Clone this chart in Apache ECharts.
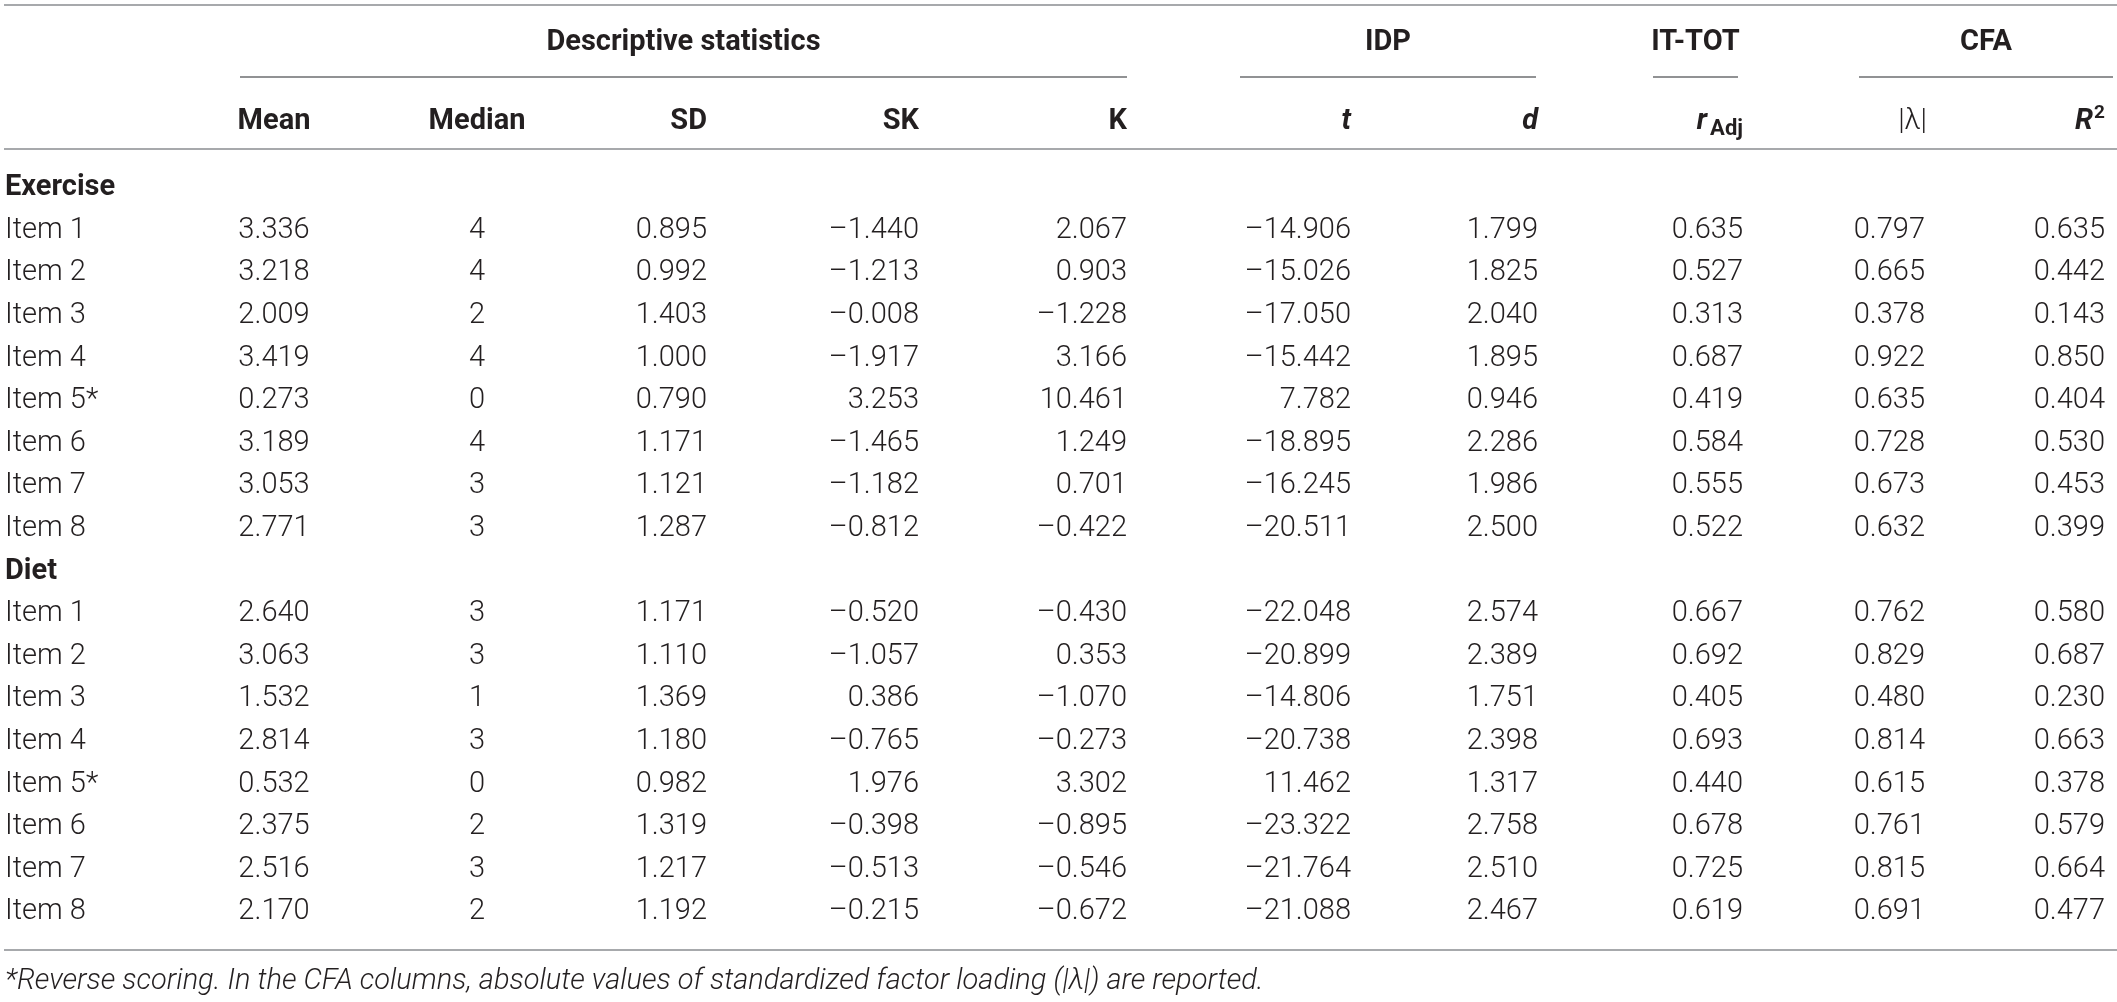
<!DOCTYPE html>
<html>
<head>
<meta charset="utf-8">
<script src="https://cdn.jsdelivr.net/npm/echarts@6.0.0/dist/echarts.min.js"></script>
<style>
  html, body { margin: 0; padding: 0; background: #fff; }
  #main { width: 2117px; height: 1002px; }
</style>
</head>
<body>
<div id="main"></div>
<script>
// table content
const groups = ['Exercise', 'Diet'];
const items = ['Item 1', 'Item 2', 'Item 3', 'Item 4', 'Item 5*', 'Item 6', 'Item 7', 'Item 8'];
const groupHeaders = ['Descriptive statistics', 'IDP', 'IT-TOT', 'CFA'];
const footnote = '*Reverse scoring. In the CFA columns, absolute values of standardized factor loading (|\u03bb|) are reported.';

// exercise items 1-8 then diet items 1-8
const mean   = [3.336, 3.218, 2.009, 3.419, 0.273, 3.189, 3.053, 2.771,
                2.640, 3.063, 1.532, 2.814, 0.532, 2.375, 2.516, 2.170];
const median = [4, 4, 2, 4, 0, 4, 3, 3,
                3, 3, 1, 3, 0, 2, 3, 2];
const sd     = [0.895, 0.992, 1.403, 1.000, 0.790, 1.171, 1.121, 1.287,
                1.171, 1.110, 1.369, 1.180, 0.982, 1.319, 1.217, 1.192];
const sk     = [-1.440, -1.213, -0.008, -1.917, 3.253, -1.465, -1.182, -0.812,
                -0.520, -1.057, 0.386, -0.765, 1.976, -0.398, -0.513, -0.215];
const kurt   = [2.067, 0.903, -1.228, 3.166, 10.461, 1.249, 0.701, -0.422,
                -0.430, 0.353, -1.070, -0.273, 3.302, -0.895, -0.546, -0.672];
const tIdp   = [-14.906, -15.026, -17.050, -15.442, 7.782, -18.895, -16.245, -20.511,
                -22.048, -20.899, -14.806, -20.738, 11.462, -23.322, -21.764, -21.088];
const dIdp   = [1.799, 1.825, 2.040, 1.895, 0.946, 2.286, 1.986, 2.500,
                2.574, 2.389, 1.751, 2.398, 1.317, 2.758, 2.510, 2.467];
const rAdj   = [0.635, 0.527, 0.313, 0.687, 0.419, 0.584, 0.555, 0.522,
                0.667, 0.692, 0.405, 0.693, 0.440, 0.678, 0.725, 0.619];
const lambda = [0.797, 0.665, 0.378, 0.922, 0.635, 0.728, 0.673, 0.632,
                0.762, 0.829, 0.480, 0.814, 0.615, 0.761, 0.815, 0.691];
const r2     = [0.635, 0.442, 0.143, 0.850, 0.404, 0.530, 0.453, 0.399,
                0.580, 0.687, 0.230, 0.663, 0.378, 0.579, 0.664, 0.477];

const columns = [mean, median, sd, sk, kurt, tIdp, dIdp, rAdj, lambda, r2];

// layout (pixel units of the hidden axes)
const W = 2117, H = 1002;
const colX     = [274, 477, 707, 919, 1127, 1351, 1538, 1743, 1925, 2105];
const colAlign = ['center', 'center', 'right', 'right', 'right', 'right', 'right', 'right', 'right', 'right'];
const ROW0 = 188, PITCH = 42.6, LABEL_X = 5;
const groupSpan = [[240, 1127], [1240, 1536], [1653, 1738], [1859, 2113]];
const Y_TOP = 5, Y_GROUP = 43, Y_GROUP_RULE = 77, Y_HEAD = 122, Y_HEAD_RULE = 149, Y_BOTTOM = 950, Y_FOOT = 982;

const INK = '#231f20';
const BODY_FONT = 'Roboto, "Liberation Sans", sans-serif';
const FS = 29;

const fmt = (v, dec) => (v < 0 ? '\u2013' : '') + Math.abs(v).toFixed(dec);

// column headers, some need italic / sub / superscript pieces
const colHeaders = [
  [{text: 'Mean', bold: true}],
  [{text: 'Median', bold: true}],
  [{text: 'SD', bold: true}],
  [{text: 'SK', bold: true}],
  [{text: 'K', bold: true}],
  [{text: 't', bold: true, italic: true}],
  [{text: 'd', bold: true, italic: true}],
  [{text: 'r', bold: true, italic: true, dx: -36}, {text: 'Adj', bold: true, size: 22, dy: 7}],
  [{text: '|\u03bb|', dx: 2}],
  [{text: 'R', bold: true, italic: true, dx: -12}, {text: '2', bold: true, size: 19, dy: -9}]
];

// build text cells
const cells = [];
groups.forEach((g, gi) => {
  const base = gi * 9;
  cells.push({x: LABEL_X, y: ROW0 + base * PITCH, text: g, align: 'left', bold: true});
  items.forEach((it, ii) => {
    const r = base + 1 + ii;
    const k = gi * 8 + ii;
    const y = ROW0 + r * PITCH;
    cells.push({x: LABEL_X, y: y, text: it, align: 'left'});
    columns.forEach((col, ci) => {
      cells.push({
        x: colX[ci], y: y, align: colAlign[ci],
        text: ci === 1 ? String(col[k]) : fmt(col[k], 3)
      });
    });
  });
});
groupHeaders.forEach((h, i) => {
  cells.push({x: (groupSpan[i][0] + groupSpan[i][1]) / 2, y: Y_GROUP, text: h, align: 'center', bold: true});
});
colHeaders.forEach((parts, ci) => {
  parts.forEach(p => {
    cells.push({
      x: colX[ci] + (p.dx || 0), y: Y_HEAD + (p.dy || 0), text: p.text,
      align: ci < 2 ? 'center' : 'right', bold: p.bold, italic: p.italic, size: p.size
    });
  });
});
cells.push({x: LABEL_X, y: Y_FOOT, text: footnote, align: 'left', italic: true, size: 29});

// table rules
const rules = [
  {x1: 4, x2: W, y: Y_TOP, w: 2, c: '#a7a9ac'},
  {x1: 4, x2: W, y: Y_HEAD_RULE, w: 2, c: '#a7a9ac'},
  {x1: 4, x2: W, y: Y_BOTTOM, w: 2, c: '#a7a9ac'}
];
groupSpan.forEach(s => rules.push({x1: s[0], x2: s[1], y: Y_GROUP_RULE, w: 1.5, c: '#6d6e71'}));

const chart = echarts.init(document.getElementById('main'));

chart.setOption({
  backgroundColor: '#fff',
  animation: false,
  grid: {left: 0, right: 0, top: 0, bottom: 0},
  xAxis: {type: 'value', min: 0, max: W, show: false},
  yAxis: {type: 'value', min: 0, max: H, inverse: true, show: false},
  series: [
    {
      type: 'custom',
      name: 'rules',
      clip: false,
      silent: true,
      data: rules.map((r, i) => [r.x1, r.y, r.x2, i]),
      renderItem: (params, api) => {
        const r = rules[api.value(3)];
        const p1 = api.coord([api.value(0), api.value(1)]);
        const p2 = api.coord([api.value(2), api.value(1)]);
        return {
          type: 'line',
          shape: {x1: p1[0], y1: p1[1], x2: p2[0], y2: p2[1]},
          style: {stroke: r.c, lineWidth: r.w}
        };
      }
    },
    {
      type: 'custom',
      name: 'cells',
      clip: false,
      silent: true,
      data: cells.map((c, i) => [c.x, c.y, i]),
      renderItem: (params, api) => {
        const c = cells[api.value(2)];
        const p = api.coord([api.value(0), api.value(1)]);
        return {
          type: 'text',
          x: p[0],
          y: p[1],
          style: {
            text: c.text,
            fill: INK,
            fontFamily: BODY_FONT,
            fontSize: c.size || FS,
            fontWeight: c.bold ? 'bold' : 300,
            fontStyle: c.italic ? 'italic' : 'normal',
            align: c.align,
            verticalAlign: 'middle',
            textAlign: c.align,
            textVerticalAlign: 'middle'
          }
        };
      }
    }
  ]
});
</script>
</body>
</html>
